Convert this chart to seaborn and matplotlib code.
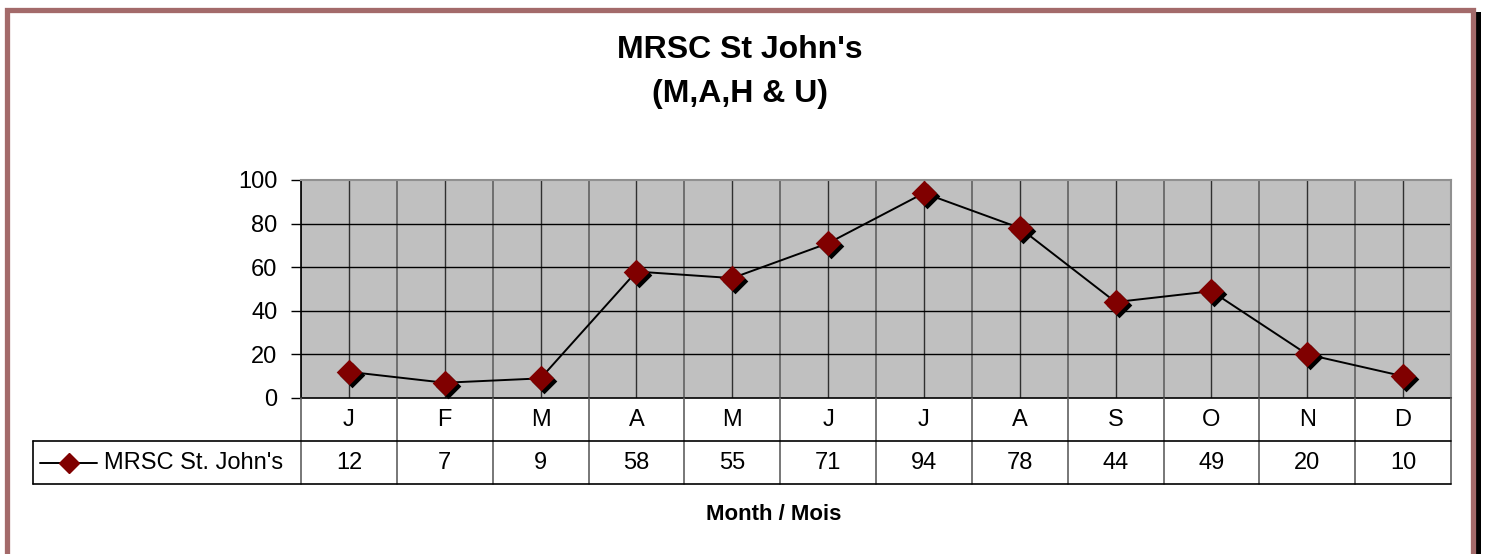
import numpy as np
import pandas as pd
import matplotlib
matplotlib.use('Agg')
import matplotlib.pyplot as plt
import matplotlib.transforms as mtransforms
from matplotlib.patches import Rectangle
from matplotlib.lines import Line2D
import seaborn as sns

sns.set_style('white')
plt.rcParams['font.family'] = ['Liberation Sans', 'DejaVu Sans']
plt.rcParams['text.color'] = 'black'
plt.rcParams['ytick.color'] = 'black'
plt.rcParams['ytick.labelcolor'] = 'black'

# data
months = ['J', 'F', 'M', 'A', 'M', 'J', 'J', 'A', 'S', 'O', 'N', 'D']
values = [12, 7, 9, 58, 55, 71, 94, 78, 44, 49, 20, 10]
series_name = "MRSC St. John's"
title_1 = "MRSC St John's"
title_2 = "(M,A,H & U)"
x_label = "Month / Mois"
y_ticks = [0, 20, 40, 60, 80, 100]

df = pd.DataFrame({'pos': np.arange(len(months)), 'month': months, 'count': values})

W, H = 1488, 554
fig = plt.figure(figsize=(W / 100, H / 100), dpi=100)


def box(x0, y0, x1, y1):
    # pixel box (top-left origin) -> figure fraction rect
    return [x0 / W, 1 - y1 / H, (x1 - x0) / W, (y1 - y0) / H]


# frame with shadow
fig.patches.append(Rectangle((1475 / W, 0), 6 / W, 1 - 12 / H, transform=fig.transFigure,
                             facecolor='black', edgecolor='none', zorder=0))
fig.patches.append(Rectangle((7 / W, 1 - 556 / H), 1465.5 / W, 546 / H, transform=fig.transFigure,
                             facecolor='none', edgecolor='#a36a6a', linewidth=3.8, zorder=1))

# plot area
ax = fig.add_axes(box(301, 180, 1451, 398))
ax.set_facecolor('#c0c0c0')
n = len(months)
for i in range(n + 1):
    ax.axvline(i - 0.5, color='#606060', lw=1.2, zorder=1)
for i in range(n):
    ax.axvline(i, color='#303030', lw=1.0, zorder=1)
for t in y_ticks[1:-1]:
    ax.axhline(t, color='black', lw=1.0, zorder=1)

sns.lineplot(data=df, x='pos', y='count', color='black', lw=1.4, ax=ax, zorder=3)
shadow = mtransforms.offset_copy(ax.transData, fig=fig, x=3, y=-3, units='dots')
ax.scatter(df['pos'], df['count'], marker='D', s=170, color='black', linewidths=0,
           transform=shadow, zorder=4, clip_on=False)
sns.scatterplot(data=df, x='pos', y='count', marker='D', s=170, color='#800000',
                edgecolor='#800000', linewidth=0, ax=ax, zorder=5, clip_on=False)

ax.set_xlim(-0.5, n - 0.5)
ax.set_ylim(0, 100)
ax.set_yticks(y_ticks)
ax.set_xticks([])
ax.set_xlabel('')
ax.set_ylabel('')
ax.tick_params(axis='y', direction='out', length=7, width=1, color='black',
               labelcolor='black', labelsize=17, pad=10, left=True)
for s in ['left', 'bottom']:
    ax.spines[s].set_color('black')
    ax.spines[s].set_linewidth(1.2)
for s in ['top', 'right']:
    ax.spines[s].set_color('#909090')
    ax.spines[s].set_linewidth(1.5)
ax.spines['bottom'].set_zorder(6)

# data table under the plot
tax = fig.add_axes(box(301, 398, 1451, 484))
tax.set_xlim(-0.5, n - 0.5)
tax.set_ylim(2, 0)
tax.axis('off')
cw = 1150 / n


def xd(px):
    return (px - 301) / cw - 0.5


left = xd(33)
for i in range(n + 1):
    tax.plot([i - 0.5, i - 0.5], [0, 2], color='#606060', lw=1.2, clip_on=False)
tax.plot([left, n - 0.5], [1, 1], color='black', lw=1.2, clip_on=False)
tax.plot([left, n - 0.5], [2, 2], color='black', lw=1.2, clip_on=False)
tax.plot([left, left], [1, 2], color='black', lw=1.2, clip_on=False)
for i, (m, v) in enumerate(zip(months, values)):
    tax.text(i, 0.52, m, ha='center', va='center', fontsize=17, color='black')
    tax.text(i, 1.52, str(v), ha='center', va='center', fontsize=17, color='black')
tax.add_line(Line2D([xd(40), xd(97)], [1.5, 1.5], color='black', lw=1.4, clip_on=False))
tax.plot([xd(69)], [1.5], marker='D', markersize=10, color='#800000', clip_on=False)
tax.text(xd(104), 1.52, series_name, ha='left', va='center', fontsize=17, color='black')

# titles
fig.text(740 / W, 1 - 50 / H, title_1, ha='center', va='center', fontsize=23,
         fontweight='bold', color='black')
fig.text(740 / W, 1 - 94 / H, title_2, ha='center', va='center', fontsize=23,
         fontweight='bold', color='black')
fig.text(774 / W, 1 - 514 / H, x_label, ha='center', va='center', fontsize=16,
         fontweight='bold', color='black')

fig.savefig('out.png', dpi=100)
